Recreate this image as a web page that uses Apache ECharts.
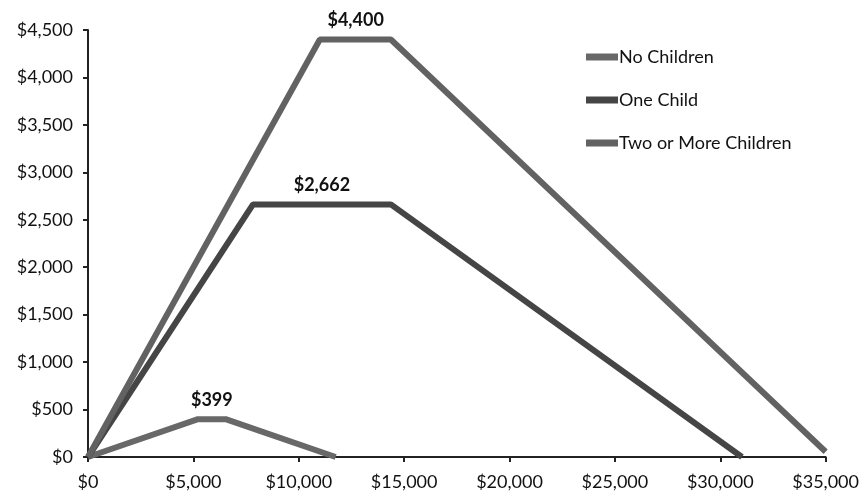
<!DOCTYPE html>
<html>
<head>
<meta charset="utf-8">
<script src="https://cdn.jsdelivr.net/npm/echarts@6/dist/echarts.min.js"></script>
<style>
  html, body { margin: 0; padding: 0; background: #fff; }
  #chart { width: 862px; height: 495px; }
</style>
</head>
<body>
<div id="chart"></div>
<script>
// income ($) / credit ($) points for each household type
const noChildren = [[0, 0], [5220, 399], [6530, 399], [11750, 0]];
const oneChild = [[0, 0], [7830, 2662], [14370, 2662], [31030, 0]];
const twoOrMore = [[0, 0], [11000, 4400], [14370, 4400], [35000, 55]];

const seriesNames = ['No Children', 'One Child', 'Two or More Children'];
const seriesColors = ['#686868', '#454545', '#626262'];

// plateau labels: [x at middle of flat part, max credit]
const peakNoChildren = [5875, 399];
const peakOneChild = [11100, 2662];
const peakTwoOrMore = [12700, 4400];

const font = 'Lato, "DejaVu Sans", sans-serif';
const money = v => '$' + v.toLocaleString('en-US');

const chart = echarts.init(document.getElementById('chart'));

function peakMark(coord) {
  return {
    symbol: 'circle',
    symbolSize: 0,
    silent: true,
    data: [{ coord: coord }],
    label: {
      show: true,
      position: 'top',
      distance: 10,
      formatter: () => money(coord[1]),
      color: '#111',
      fontFamily: font,
      fontWeight: 'bold',
      fontSize: 18
    }
  };
}

function lineSeries(i, data, peak) {
  return {
    name: seriesNames[i],
    type: 'line',
    data: data,
    symbol: 'none',
    color: seriesColors[i],
    lineStyle: { width: 6, color: seriesColors[i] },
    markPoint: peakMark(peak),
    animation: false
  };
}

chart.setOption({
  backgroundColor: '#fff',
  grid: { left: 88, right: 35, top: 30, bottom: 38, containLabel: false },
  legend: {
    orient: 'vertical',
    left: 581,
    top: 43,
    itemWidth: 32,
    itemHeight: 7,
    itemGap: 25,
    icon: 'rect',
    textStyle: { fontFamily: font, fontSize: 18, color: '#111', padding: [0, 0, 0, -4] },
    data: seriesNames
  },
  xAxis: {
    type: 'value',
    min: 0,
    max: 35000,
    interval: 5000,
    axisLine: { lineStyle: { color: '#222', width: 2 } },
    axisTick: { show: true, length: 5, lineStyle: { color: '#222', width: 2 } },
    splitLine: { show: false },
    axisLabel: { formatter: money, fontFamily: font, fontSize: 18, color: '#111', margin: 16 }
  },
  yAxis: {
    type: 'value',
    min: 0,
    max: 4500,
    interval: 500,
    axisLine: { show: true, lineStyle: { color: '#222', width: 2 } },
    axisTick: { show: true, length: 5, lineStyle: { color: '#222', width: 2 } },
    splitLine: { show: false },
    axisLabel: { formatter: money, fontFamily: font, fontSize: 18, color: '#111', margin: 15 }
  },
  series: [
    lineSeries(0, noChildren, peakNoChildren),
    lineSeries(1, oneChild, peakOneChild),
    lineSeries(2, twoOrMore, peakTwoOrMore)
  ]
});
</script>
</body>
</html>
